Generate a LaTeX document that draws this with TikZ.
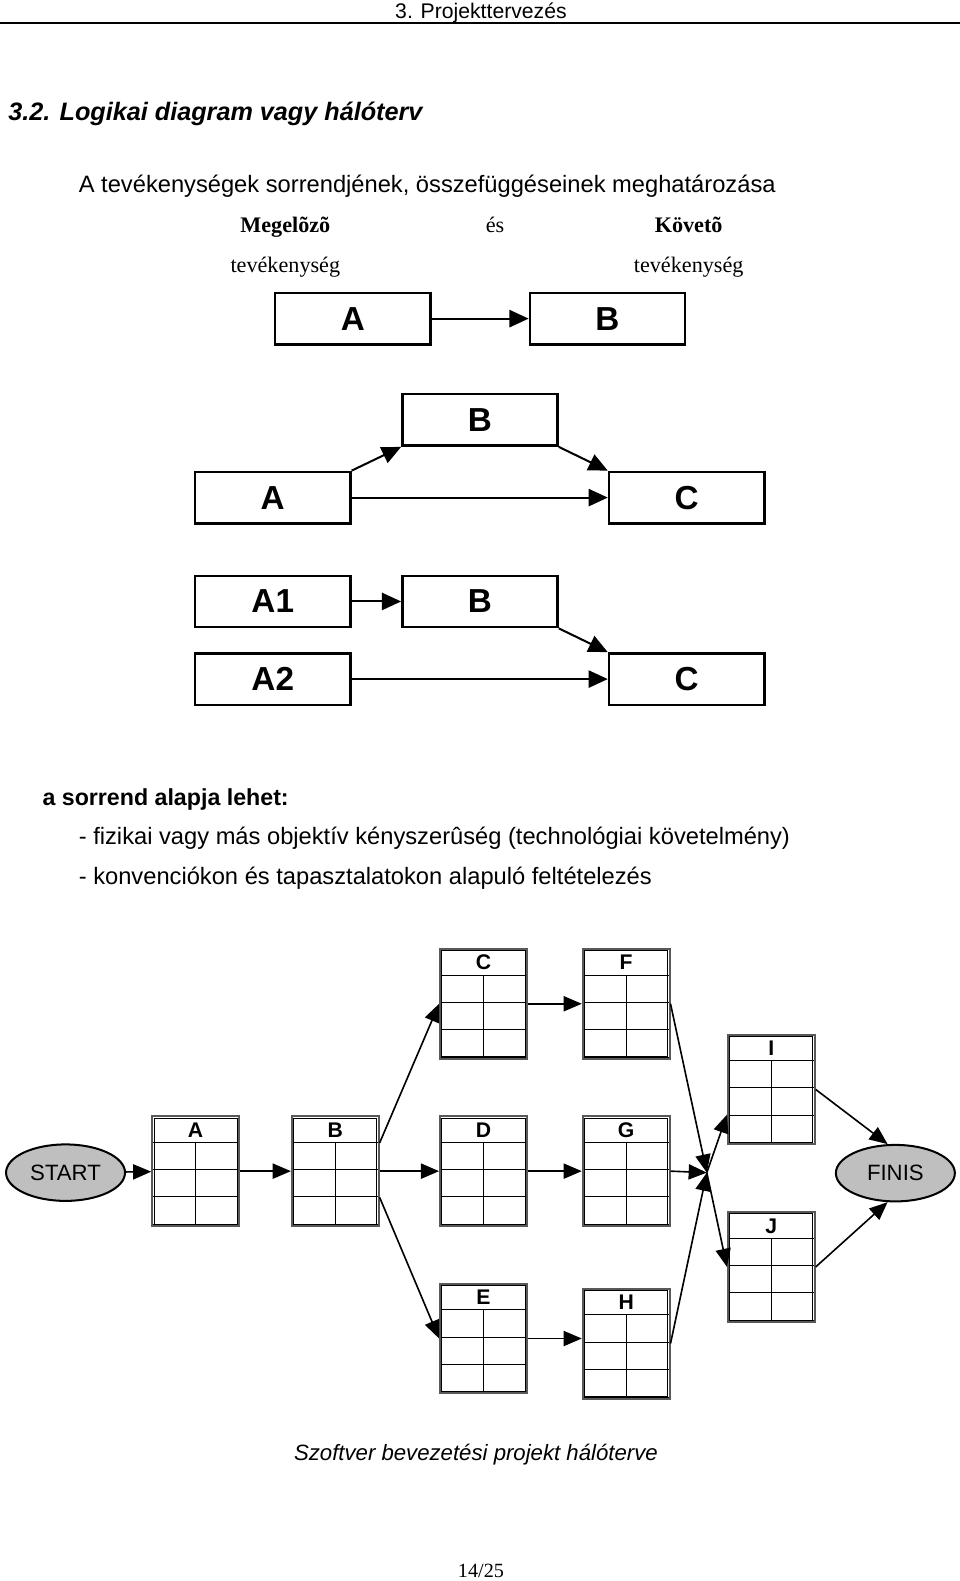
\documentclass[tikz,border=0pt]{standalone}
\usepackage{fontspec}
\setmainfont{Liberation Sans}
\newfontfamily\timesfont{Liberation Serif}
\usetikzlibrary{arrows.meta,shapes.geometric}

\begin{document}
\begin{tikzpicture}[x=1pt,y=-1pt,
		blok/.style={rectangle, draw, line width=2.4pt, minimum width=154pt, minimum height=51pt, font=\fontsize{33}{33}\selectfont\bfseries},
		tabla/.style={rectangle, draw=gray!70!black, line width=2pt, minimum width=86pt, inner xsep=0pt, inner ysep=6pt, text height=15pt, text depth=82pt, font=\fontsize{21}{21}\selectfont\bfseries,
			path picture={
				\draw [black, line width=0.9pt] ([shift={(1.8pt,-1.8pt)}]path picture bounding box.north west) rectangle ([shift={(-1.8pt,1.8pt)}]path picture bounding box.south east);
				\foreach \d in {26,53,80}
					\draw [black, line width=1pt] ([yshift=-\d pt]path picture bounding box.north west) -- ([yshift=-\d pt]path picture bounding box.north east);
				\draw [black, line width=0.8pt] ([yshift=-26pt]path picture bounding box.north) -- (path picture bounding box.south);
				\draw [black, line width=3.5pt] (path picture bounding box.south west) -- (path picture bounding box.south east);
			}},
		esemeny/.style={ellipse, draw, line width=2pt, fill=gray!50, minimum width=118pt, minimum height=56pt, inner sep=0pt, font=\fontsize{22}{22}\selectfont},
		nyil/.style={-{Triangle[length=19pt,width=17pt]}, line width=2pt},
		kisnyil/.style={-{Triangle[length=18pt,width=15pt]}, line width=1.6pt}]
		\useasboundingbox [fill=white] (0,0) rectangle (952,1568);

		\draw (477,18) node [anchor=base, font=\fontsize{21}{21}\selectfont] (fejlec) {3. Projekttervezés};
		\draw [line width=2pt] (0,23) -- (952,23);
		\draw (8,120) node [anchor=base west, inner sep=0pt, font=\fontsize{25}{25}\selectfont\bfseries\itshape] (cim) {3.2. Logikai diagram vagy hálóterv};
		\draw (78,191) node [anchor=base west, inner sep=0pt, font=\fontsize{23.5}{24}\selectfont] (alcim) {A tevékenységek sorrendjének, összefüggéseinek meghatározása};
		\draw (283,231) node [anchor=base, font=\fontsize{22}{22}\timesfont\bfseries] (megelozo) {Megelõzõ};
		\draw (491,231) node [anchor=base, font=\fontsize{22}{22}\timesfont] (es) {és};
		\draw (683,231) node [anchor=base, font=\fontsize{22}{22}\timesfont\bfseries] (koveto) {Követõ};
		\draw (283,270) node [anchor=base, font=\fontsize{22}{22}\timesfont] (tev1) {tevékenység};
		\draw (683,270) node [anchor=base, font=\fontsize{22}{22}\timesfont] (tev2) {tevékenység};

		\draw (350,316) node [blok] (a0) {A};
		\draw (602.5,316) node [blok] (b0) {B};

		\draw (476,416.5) node [blok] (b1) {B};
		\draw (270.5,493.5) node [blok] (a1) {A};
		\draw (681,493.5) node [blok] (c1) {C};

		\draw (270.5,596.5) node [blok] (a12) {A1};
		\draw (476,596.5) node [blok] (b2) {B};
		\draw (270.5,673.5) node [blok] (a22) {A2};
		\draw (681,673.5) node [blok] (c2) {C};

		\draw
			(a0) edge [nyil] (b0)
			(a1.north east) edge [nyil] (b1.south west)
			(b1.south east) edge [nyil] (c1.north west)
			(a1) edge [nyil] (c1)
			(a12) edge [nyil] (b2)
			(b2.south east) edge [nyil] (c2.north west)
			(a22) edge [nyil] (c2)
		;

		\draw (42,799) node [anchor=base west, inner sep=0pt, font=\fontsize{23}{23}\selectfont\bfseries] (sorrend) {a sorrend alapja lehet:};
		\draw (78,838) node [anchor=base west, inner sep=0pt, font=\fontsize{23.5}{24}\selectfont] (pont1) {- fizikai vagy más objektív kényszerûség (technológiai követelmény)};
		\draw (78,877) node [anchor=base west, inner sep=0pt, font=\fontsize{23.5}{24}\selectfont] (pont2) {- konvenciókon és tapasztalatokon alapuló feltételezés};

		\draw (65,1163) node [esemeny] (start) {START};
		\draw (888,1163.5) node [esemeny] (finis) {FINIS};
		\draw (194,1161.5) node [tabla] (ta) {A};
		\draw (332.5,1161.5) node [tabla] (tb) {B};
		\draw (479.5,995.5) node [tabla] (tc) {C};
		\draw (479.5,1161.5) node [tabla] (td) {D};
		\draw (479.5,1327.5) node [tabla] (te) {E};
		\draw (621,995.5) node [tabla] (tf) {F};
		\draw (621,1161.5) node [tabla] (tg) {G};
		\draw (621,1332.5) node [tabla] (th) {H};
		\draw (765,1080.5) node [tabla] (ti) {I};
		\draw (765,1256.5) node [tabla] (tj) {J};
		\coordinate (jn) at (701,1163);

		\draw
			(start) edge [kisnyil] (ta)
			(ta) edge [kisnyil] (tb)
			(tb) edge [kisnyil] (td)
			(td) edge [kisnyil] (tg)
			(tc) edge [kisnyil] (tf)
			(te.east) edge [kisnyil] (te.east -| th.west)
			([yshift=28pt]tb.east) edge [kisnyil] (tc.west)
			([yshift=-26pt]tb.east) edge [kisnyil] (te.west)
			(tf.east) edge [kisnyil] (jn)
			(tg.east) edge [kisnyil] (jn)
			(th.east) edge [kisnyil] (jn)
			(jn) edge [kisnyil] ([yshift=-25pt]ti.west)
			(jn) edge [kisnyil] (tj.west)
			(ti.east) edge [kisnyil] (finis.105)
			(tj.east) edge [kisnyil] (finis.255)
		;

		\draw (472,1448) node [anchor=base, font=\fontsize{22}{22}\selectfont\itshape] (felirat) {Szoftver bevezetési projekt hálóterve};
		\draw (477,1565) node [anchor=base, font=\fontsize{20}{20}\timesfont] (oldal) {14/25};
	\end{tikzpicture}
\end{document}
